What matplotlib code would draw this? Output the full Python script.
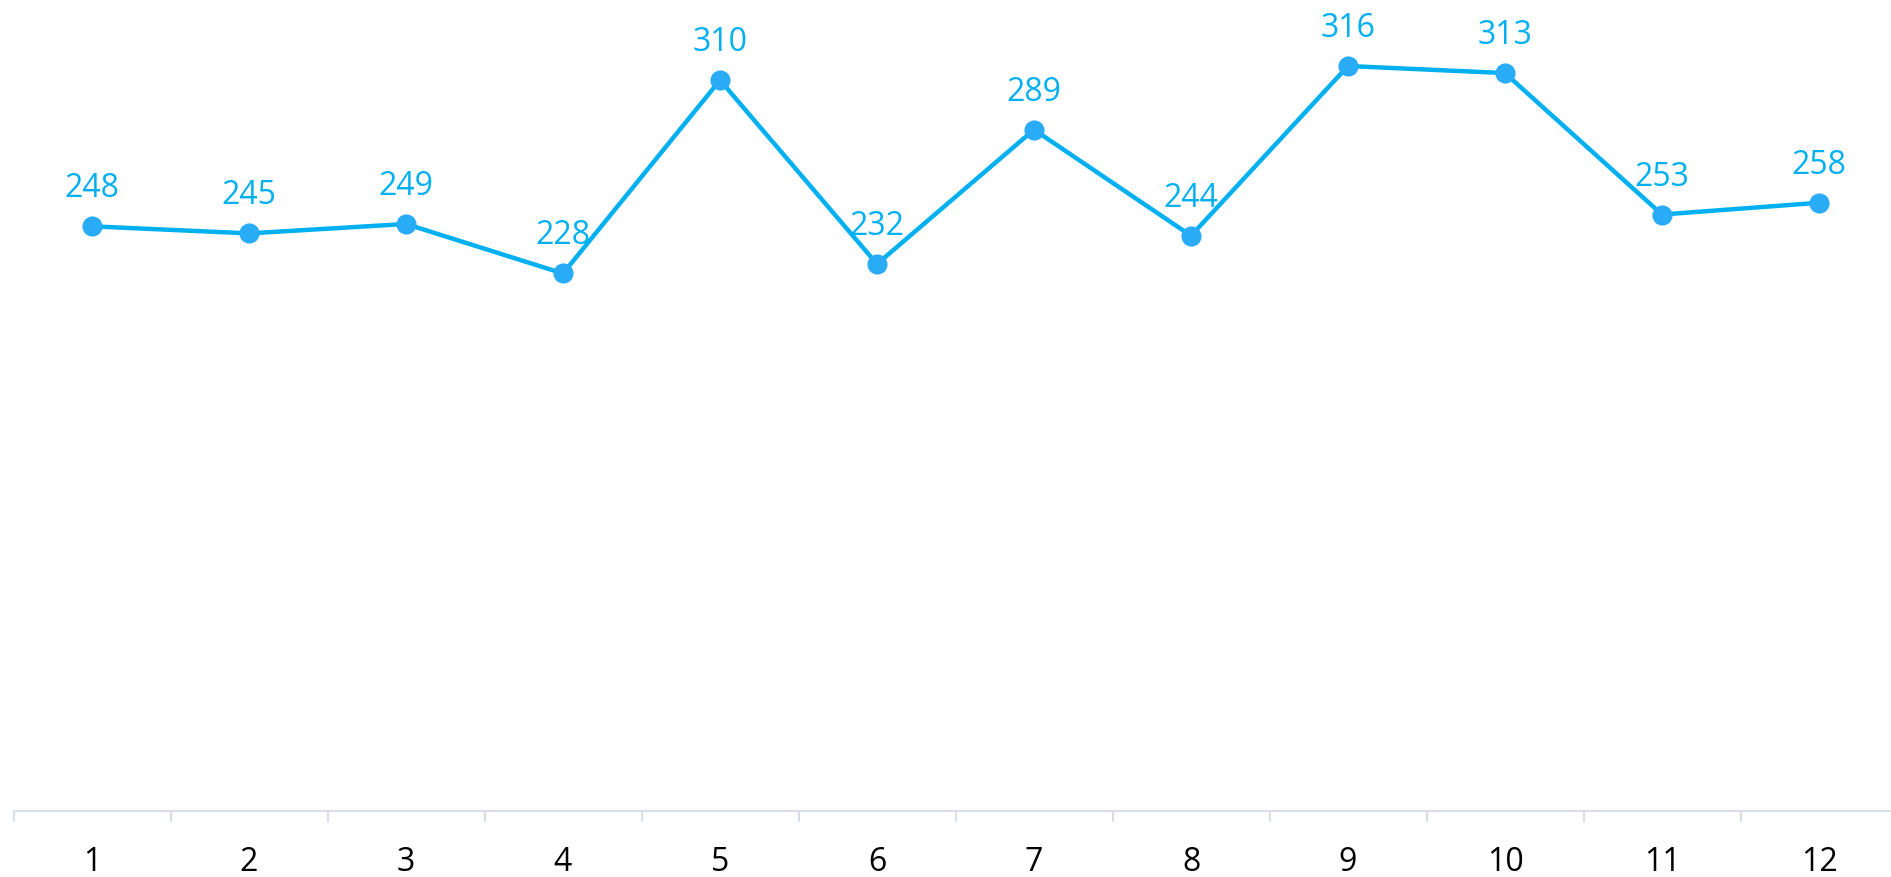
import matplotlib.pyplot as plt
import numpy as np

plt.rcParams["font.family"] = ["Open Sans", "DejaVu Sans"]

months = ["1", "2", "3", "4", "5", "6", "7", "8", "9", "10", "11", "12"]
values = [248, 245, 249, 228, 310, 232, 289, 244, 316, 313, 253, 258]

line_col = "#00B0F0"
dot_col = "#2AABF5"
axis_col = "#D9DEE8"

W, H = 1891, 877
fig = plt.figure(figsize=(W / 100, H / 100), dpi=100)
# plot area: left edge at x=13.5 px, bottom (value 0) at y=811 px
left = 13.5 / W
right = 1897.5 / W
bottom = (H - 811) / H
ax = fig.add_axes([left, bottom, right - left, 1 - bottom])

x = np.arange(1, len(values) + 1)
ax.plot(x, values, color=line_col, lw=3.2, marker="o", ms=13.5,
        mfc=dot_col, mec=dot_col, zorder=3, clip_on=False)

for xi, v in zip(x, values):
    ax.annotate(str(v), (xi, v), xytext=(0, 27), textcoords="offset points",
                ha="center", va="center", fontsize=23, color=line_col)

ax.set_xlim(0.5, len(values) + 0.5)
ax.set_ylim(0, 344)

for s in ["top", "right", "left"]:
    ax.spines[s].set_visible(False)
ax.spines["bottom"].set_color(axis_col)
ax.spines["bottom"].set_linewidth(1.5)

ax.set_yticks([])
ax.set_xticks(x)
ax.set_xticklabels(months)
ax.set_xticks(np.arange(0.5, len(values) + 1, 1), minor=True)
ax.tick_params(axis="x", which="major", length=0, pad=25, labelsize=23,
               labelcolor="black")
ax.tick_params(axis="x", which="minor", length=8, width=1.5, color=axis_col)

fig.savefig("out.png", dpi=100)
